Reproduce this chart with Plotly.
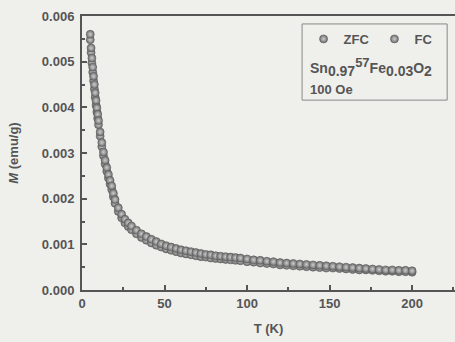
import plotly.graph_objects as go

T = [5, 5.5, 6, 6.5, 7, 7.5, 8, 8.5, 9, 9.5, 10,
     11, 12, 13, 14, 15, 16, 17, 18, 19, 20,
     22, 24, 26, 28, 30,
     33, 36, 39, 42, 45, 48, 51, 54, 57, 60, 63, 66, 69, 72, 75, 78, 81, 84, 87, 90, 93, 96,
     100, 104, 108, 112, 116, 120, 124, 128, 132, 136, 140, 144, 148, 152, 156, 160, 164, 168,
     172, 176, 180, 184, 188, 192, 196, 200]

M_FC = [0.00560, 0.00530, 0.00508, 0.00488, 0.00468, 0.00450, 0.00432, 0.00415, 0.00399, 0.00385, 0.00371,
        0.00346, 0.00323, 0.00302, 0.00284, 0.00268, 0.00253, 0.00240, 0.00228, 0.00212, 0.00198,
        0.00180, 0.00166, 0.00155, 0.00147, 0.00140,
        0.00131, 0.00123, 0.00117, 0.00111, 0.00106, 0.00101, 0.00097, 0.00094, 0.00091, 0.00088, 0.00086,
        0.00084, 0.00082, 0.00080, 0.00078, 0.00077, 0.00075, 0.00074, 0.00073, 0.00072, 0.00071, 0.00070,
        0.00068, 0.00066, 0.00065, 0.00063, 0.00062, 0.00060, 0.00059, 0.00058, 0.00057, 0.00056, 0.00055,
        0.00054, 0.00053, 0.00052, 0.00051, 0.00050, 0.00049, 0.00048, 0.00047, 0.00046, 0.00045, 0.00044,
        0.00044, 0.00043, 0.00043, 0.00042]

M_ZFC = [0.00548, 0.00520, 0.00497, 0.00477, 0.00458, 0.00440, 0.00422, 0.00405, 0.00390, 0.00376, 0.00362,
         0.00337, 0.00314, 0.00294, 0.00276, 0.00260, 0.00245, 0.00232, 0.00220, 0.00204, 0.00190,
         0.00172, 0.00158, 0.00147, 0.00139, 0.00132,
         0.00123, 0.00115, 0.00109, 0.00103, 0.00098, 0.00094, 0.00090, 0.00087, 0.00084, 0.00081, 0.00079,
         0.00077, 0.00075, 0.00073, 0.00072, 0.00070, 0.00069, 0.00068, 0.00067, 0.00066, 0.00065, 0.00064,
         0.00062, 0.00061, 0.00059, 0.00058, 0.00057, 0.00055, 0.00054, 0.00053, 0.00052, 0.00051, 0.00050,
         0.00049, 0.00048, 0.00048, 0.00047, 0.00046, 0.00045, 0.00044, 0.00044, 0.00043, 0.00042, 0.00041,
         0.00041, 0.00040, 0.00040, 0.00039]

x_ticks = [0, 50, 100, 150, 200]
y_ticks = [0.000, 0.001, 0.002, 0.003, 0.004, 0.005, 0.006]

FONT = "Liberation Sans, Arial, sans-serif"
GREY = "#555555"
BG = "#efefec"

marker_style = dict(symbol="circle", size=8, color="#6f6f6f",
                    gradient=dict(type="radial", color="#cdcdcd"),
                    line=dict(width=0.6, color="#5a5a5a"))

fig = go.Figure()
fig.add_trace(go.Scatter(x=T, y=M_ZFC, mode="markers", name="ZFC", marker=marker_style))
fig.add_trace(go.Scatter(x=T, y=M_FC, mode="markers", name="FC", marker=marker_style))

SUB = "<sub><span style='font-size:14px'>{}</span></sub>"
SUP = "<sup><span style='font-size:13px'>{}</span></sup>"
formula = "Sn" + SUB.format("0.97") + SUP.format("57") + "Fe" + SUB.format("0.03") + "O" + SUB.format("2")

fig.update_layout(
    width=455, height=342,
    margin=dict(l=82, r=0, t=16, b=52),
    paper_bgcolor=BG, plot_bgcolor=BG,
    font=dict(family=FONT, size=13, color=GREY, weight="bold"),
    showlegend=True,
    legend=dict(orientation="h", x=0.594, y=0.971, xanchor="left", yanchor="top",
                bgcolor="rgba(0,0,0,0)", borderwidth=0, itemwidth=30,
                font=dict(family=FONT, size=13, color=GREY, weight="bold")),
    xaxis=dict(range=[0, 226], tickvals=x_ticks, ticks="inside", ticklen=5, tickwidth=1.5,
               tickcolor=GREY, showline=True, linecolor=GREY, linewidth=2, mirror=True,
               showgrid=False, zeroline=False,
               minor=dict(dtick=25, tick0=0, ticks="inside", ticklen=3, tickcolor=GREY, tickwidth=1.5),
               title=dict(text="T (K)", standoff=14, font=dict(size=13, color=GREY, weight="bold"))),
    yaxis=dict(range=[0, 0.006], tickvals=y_ticks, tickformat=".3f", ticks="inside", ticklen=5,
               tickwidth=1.5, tickcolor=GREY, showline=True, linecolor=GREY, linewidth=2,
               showgrid=False, zeroline=False, ticklabelstandoff=3,
               minor=dict(dtick=0.0005, tick0=0, ticks="inside", ticklen=3, tickcolor=GREY, tickwidth=1.5),
               title=dict(text="<i>M</i> (emu/g)", standoff=20, font=dict(size=13, color=GREY, weight="bold"))),
    shapes=[dict(type="rect", xref="paper", yref="paper", x0=0.59, x1=0.979, y0=0.693, y1=0.971,
                 line=dict(color="#888888", width=1), fillcolor="rgba(0,0,0,0)")],
    annotations=[
        dict(xref="paper", yref="paper", x=0.605, y=0.814, xanchor="left", yanchor="middle",
             showarrow=False, text=formula,
             font=dict(family=FONT, size=14, color=GREY, weight="bold")),
        dict(xref="paper", yref="paper", x=0.605, y=0.73, xanchor="left", yanchor="middle",
             showarrow=False, text="100 Oe",
             font=dict(family=FONT, size=13, color=GREY, weight="bold")),
    ],
)

fig.write_html("out.html", config={"displayModeBar": False},
               post_script="document.body.style.margin='0';document.body.style.background='#efefec';")
